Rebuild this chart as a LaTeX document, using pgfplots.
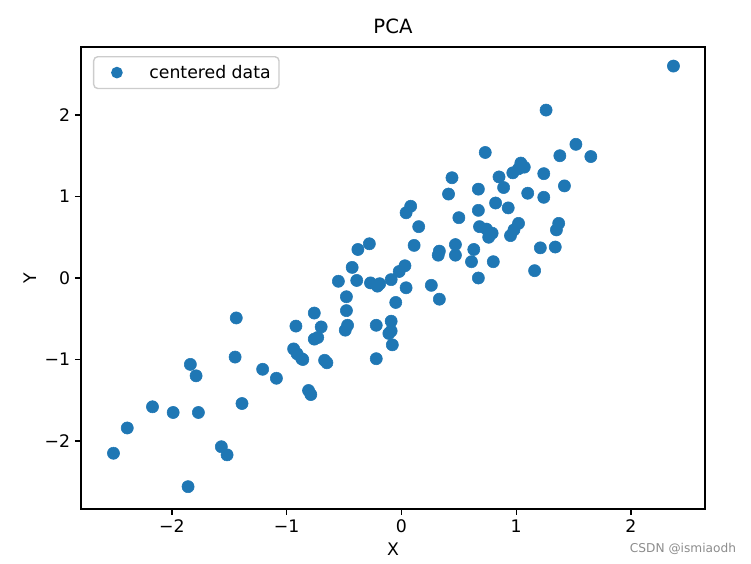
\documentclass[border=0pt]{standalone}
\usepackage{fontspec}
\setmainfont{DejaVu Sans}
\usepackage{pgfplots}
\pgfplotsset{compat=1.18}
\definecolor{mplblue}{HTML}{1F77B4}
\newcommand{\tickfont}{\fontsize{12.5}{15}\selectfont}
\begin{document}
\begin{tikzpicture}
\begin{axis}[
  at={(0,0)}, anchor=south west,
  scale only axis, width=6.24in, height=4.62in,
  xmin=-2.793, xmax=2.645, ymin=-2.834, ymax=2.834,
  axis line style={line width=1pt},
  xtick pos=bottom, ytick pos=left,
  tick align=outside, major tick length=0.06in,
  tick style={line width=1pt, black},
  tick label style={font=\tickfont},
  xtick={-2,-1,0,1,2}, xticklabels={−2,−1,0,1,2},
  ytick={-2,-1,0,1,2}, yticklabels={−2,−1,0,1,2},
  title={PCA}, xlabel={X}, ylabel={Y},
  title style={at={(axis description cs:0.5,1)}, anchor=center, yshift=0.12in,
    font=\fontsize{14.2}{17}\selectfont},
  xlabel style={at={(axis description cs:0.5,0)}, anchor=center, yshift=-0.40in,
    font=\tickfont},
  ylabel style={at={(axis description cs:0,0.5)}, anchor=center, yshift=0.51in,
    font=\tickfont},
  legend style={at={(axis description cs:0,1)}, anchor=north west,
    xshift=0.12in, yshift=-0.09in, draw=black!20, line width=1pt,
    rounded corners=3pt, inner xsep=4pt, inner ysep=4pt, font=\tickfont},
  legend cell align=left,
  legend image code/.code={
    \path (0,0) (0.46in,0);
    \draw[#1, mark=*, mark size=3.7pt] plot coordinates {(0.17in,0)};
  },
]
\addplot[only marks, mark=*, mark size=4.4pt, draw=mplblue, fill=mplblue]
coordinates {
(2.37,2.60) (1.26,2.06) (1.52,1.64) (1.38,1.50) (1.65,1.49)
(0.73,1.54) (1.04,1.41) (1.07,1.36) (1.02,1.34) (0.97,1.29)
(1.24,1.28) (0.44,1.23) (0.85,1.24) (1.42,1.13) (0.89,1.11)
(0.67,1.09) (0.41,1.03) (1.10,1.04) (1.24,0.99) (0.82,0.92)
(0.93,0.86) (0.08,0.88) (0.04,0.80) (0.67,0.83) (0.50,0.74)
(0.15,0.63) (0.68,0.63) (0.74,0.60) (0.79,0.55) (0.76,0.50)
(1.02,0.67) (0.98,0.59) (0.95,0.52) (1.37,0.67) (1.35,0.59)
(0.11,0.40) (-0.28,0.42) (-0.38,0.35) (0.33,0.33) (0.32,0.28)
(0.47,0.41) (0.47,0.28) (0.63,0.35) (0.61,0.20) (1.21,0.37)
(1.34,0.38) (0.80,0.20) (1.16,0.09) (0.03,0.15) (-0.43,0.13)
(-0.02,0.08) (0.67,0.00) (-0.55,-0.04) (-0.39,-0.03) (-0.27,-0.06)
(-0.21,-0.10) (-0.19,-0.07) (-0.09,-0.02) (0.26,-0.09) (0.04,-0.12)
(0.33,-0.26) (-0.48,-0.23) (-0.05,-0.30) (-0.48,-0.40) (-0.76,-0.43)
(-1.44,-0.49) (-0.92,-0.59) (-0.70,-0.60) (-0.47,-0.58) (-0.22,-0.58)
(-0.09,-0.53) (-0.09,-0.65) (-0.11,-0.68) (-0.49,-0.64) (-0.73,-0.73)
(-0.76,-0.75) (-0.08,-0.82) (-0.94,-0.87) (-0.91,-0.93) (-0.87,-0.99)
(-0.86,-1.00) (-0.67,-1.01) (-0.65,-1.04) (-0.22,-0.99) (-1.45,-0.97)
(-1.84,-1.06) (-1.79,-1.20) (-1.21,-1.12) (-1.09,-1.23) (-0.81,-1.38)
(-0.79,-1.43) (-1.39,-1.54) (-2.17,-1.58) (-1.99,-1.65) (-1.77,-1.65)
(-2.39,-1.84) (-2.51,-2.15) (-1.57,-2.07) (-1.52,-2.17) (-1.86,-2.56)
};
\addlegendentry{centered data}
\end{axis}
\node[text=black!45, font=\fontsize{8.8}{10}\selectfont] at (6.02in,-0.40in) {CSDN @ismiaodh};
\pgfresetboundingbox
\path[use as bounding box] (-0.81in,-0.55in) rectangle (6.70in,5.09in);
\end{tikzpicture}
\end{document}
